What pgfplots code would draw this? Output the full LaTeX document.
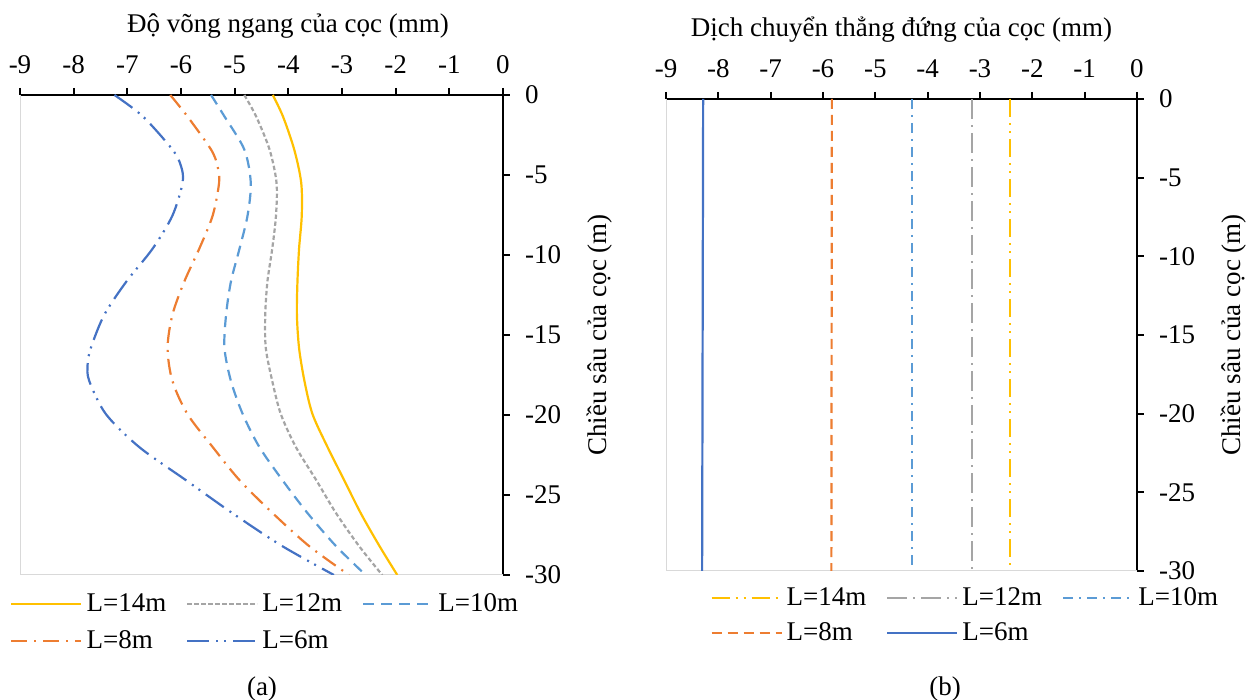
\documentclass[border=0pt]{standalone}
\usepackage{fontspec}
\setmainfont{Liberation Serif}
\usepackage{pgfplots}
\pgfplotsset{compat=1.18}
\definecolor{cY}{HTML}{FFC000}
\definecolor{cG}{HTML}{A5A5A5}
\definecolor{cLB}{HTML}{5B9BD5}
\definecolor{cO}{HTML}{ED7D31}
\definecolor{cB}{HTML}{4472C4}
\definecolor{cBorder}{HTML}{D9D9D9}
\pgfplotsset{
  base/.style={
    scale only axis,
    xmin=-9, xmax=0, ymin=-30, ymax=0,
    axis x line=top, axis y line=right,
    axis line style={-, line width=1.2bp, black},
    every tick/.style={black, line width=1bp},
    tick align=outside, major tick length=3.5bp,
    xtick={-9,-8,-7,-6,-5,-4,-3,-2,-1,0},
    xticklabels={-9,-8,-7,-6,-5,-4,-3,-2,-1,0},
    ytick={-30,-25,-20,-15,-10,-5,0},
    yticklabels={-30,-25,-20,-15,-10,-5,0},
    font=\fontsize{13.5bp}{16bp}\selectfont,
    tick label style={font=\fontsize{13.5bp}{16bp}\selectfont},
    xticklabel style={yshift=3.5bp},
    yticklabel style={xshift=4bp},
    label style={font=\fontsize{13.5bp}{16bp}\selectfont},
    ylabel shift=6bp,
    legend columns=3,
    legend cell align=left,
    legend style={draw=none, fill=none, inner xsep=0pt, inner ysep=0pt,
      font=\fontsize{13.5bp}{16bp}\selectfont,
      /tikz/every even column/.append style={column sep=8bp}},
    legend image code/.code={\draw[##1] (0bp,0bp) -- (35bp,0bp);},
    every axis plot/.append style={line width=1.1bp},
  },
}
\begin{document}
\begin{tikzpicture}
\useasboundingbox (0,0) rectangle (627.5bp,350bp);
% ---------------- (a) ----------------
\begin{axis}[base,
  at={(10bp,62.5bp)}, anchor=south west,
  width=241.5bp, height=240bp,
  xlabel={Độ võng ngang của cọc (mm)},
  xlabel style={at={(axis description cs:0.555,1)}, anchor=base, yshift=31bp},
  ylabel={Chiều sâu của cọc (m)},
  legend style={at={(rel axis cs:0,0)}, anchor=north west, xshift=-5bp, yshift=-7bp,
    row sep=4bp},
]
\draw[cBorder, line width=0.8bp] (rel axis cs:0,1) -- (rel axis cs:0,0) -- (rel axis cs:1,0);
\addplot[cY, smooth] coordinates {
(-4.29,0) (-4.10,-1.34) (-3.89,-3.41) (-3.76,-5.48) (-3.75,-7.54) (-3.80,-9.61)
(-3.83,-11.67) (-3.84,-13.74) (-3.80,-15.81) (-3.70,-17.87) (-3.55,-19.94)
(-3.27,-22.0) (-2.96,-24.07) (-2.65,-26.14) (-2.30,-28.2) (-1.97,-30)};
\addlegendentry{L=14m}
\addplot[cG, smooth, dash pattern=on 2.2bp off 1.3bp] coordinates {
(-4.82,0) (-4.60,-1.34) (-4.35,-3.41) (-4.22,-5.48) (-4.23,-7.54) (-4.30,-9.61)
(-4.39,-11.67) (-4.43,-13.74) (-4.42,-15.81) (-4.30,-17.87) (-4.14,-19.94)
(-3.86,-22.0) (-3.48,-24.07) (-3.11,-26.14) (-2.68,-28.2) (-2.25,-30)};
\addlegendentry{L=12m}
\addplot[cLB, smooth, dash pattern=on 5.5bp off 3.5bp] coordinates {
(-5.44,0) (-5.19,-1.34) (-4.82,-3.41) (-4.70,-5.48) (-4.76,-7.54) (-4.91,-9.61)
(-5.07,-11.67) (-5.16,-13.74) (-5.19,-15.81) (-5.07,-17.87) (-4.85,-19.94)
(-4.54,-22.0) (-4.11,-24.07) (-3.64,-26.14) (-3.11,-28.2) (-2.56,-30)};
\addlegendentry{L=10m}
\addplot[cO, smooth, dash pattern=on 8bp off 3.5bp on 1bp off 3.5bp] coordinates {
(-6.20,0) (-5.88,-1.34) (-5.44,-3.41) (-5.32,-4.44) (-5.29,-5.48) (-5.41,-7.54)
(-5.66,-9.61) (-5.94,-11.67) (-6.16,-13.74) (-6.25,-15.81) (-6.16,-17.87)
(-5.88,-19.94) (-5.41,-22.0) (-4.91,-24.07) (-4.29,-26.14) (-3.61,-28.2) (-2.87,-30)};
\addlegendentry{L=8m}
\addplot[cB, smooth, dash pattern=on 11bp off 3.5bp on 1bp off 3bp on 1bp off 3.5bp] coordinates {
(-7.24,0) (-6.71,-1.34) (-6.16,-3.41) (-6.00,-4.44) (-5.97,-5.48) (-6.16,-7.54)
(-6.53,-9.61) (-7.02,-11.67) (-7.43,-13.74) (-7.68,-15.81) (-7.74,-16.84)
(-7.71,-17.87) (-7.40,-19.94) (-6.78,-22.0) (-5.91,-24.07) (-5.04,-26.14)
(-4.11,-28.2) (-3.15,-30)};
\addlegendentry{L=6m}
\end{axis}
% ---------------- (b) ----------------
\begin{axis}[base,
  at={(333bp,64.5bp)}, anchor=south west,
  width=235.5bp, height=236bp,
  xlabel={Dịch chuyển thẳng đứng của cọc (mm)},
  xlabel style={at={(axis description cs:0.5,1)}, anchor=base, yshift=31bp},
  ylabel={Chiều sâu của cọc (m)},
  legend style={at={(rel axis cs:0,0)}, anchor=north west, xshift=22bp, yshift=-6bp,
    row sep=3bp},
]
\draw[cBorder, line width=0.8bp] (rel axis cs:0,1) -- (rel axis cs:0,0) -- (rel axis cs:1,0);
\addplot[cY, dash pattern=on 9bp off 3bp on 1bp off 3bp on 1bp off 3bp] coordinates {(-2.42,0) (-2.42,-30)};
\addlegendentry{L=14m}
\addplot[cG, dash pattern=on 10bp off 3bp on 1bp off 3bp] coordinates {(-3.15,0) (-3.15,-30)};
\addlegendentry{L=12m}
\addplot[cLB, dash pattern=on 5bp off 3bp on 1bp off 3bp] coordinates {(-4.30,0) (-4.30,-30)};
\addlegendentry{L=10m}
\addplot[cO, dash pattern=on 5bp off 3bp] coordinates {(-5.83,0) (-5.84,-30)};
\addlegendentry{L=8m}
\addplot[cB] coordinates {(-8.29,0) (-8.31,-30)};
\addlegendentry{L=6m}
\end{axis}
\node[font=\fontsize{13.5bp}{16bp}\selectfont] at (131bp,5.5bp) {(a)};
\node[font=\fontsize{13.5bp}{16bp}\selectfont] at (472.5bp,5.5bp) {(b)};
\end{tikzpicture}
\end{document}
